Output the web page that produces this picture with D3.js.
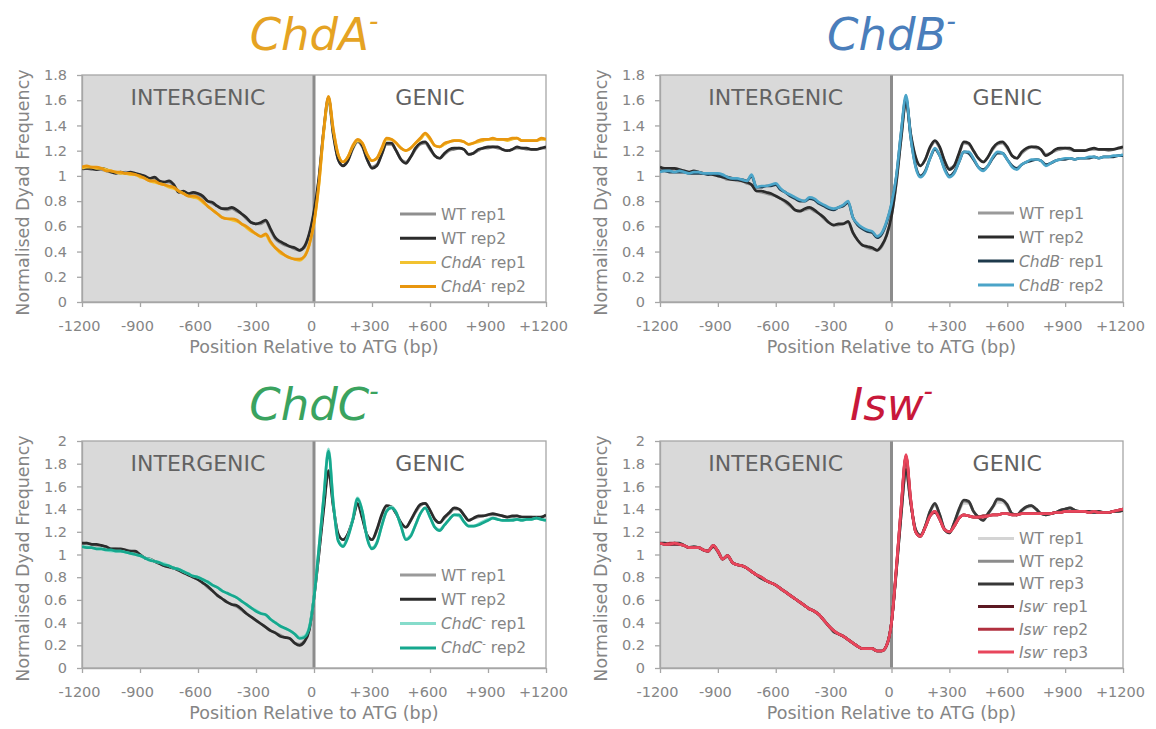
<!DOCTYPE html>
<html>
<head>
<meta charset="utf-8">
<script src="https://cdn.jsdelivr.net/npm/d3@7"></script>
<style>
  body { margin: 0; background: #fff; }
  svg { display: block; font-family: "DejaVu Sans", sans-serif; }
</style>
</head>
<body>
<svg id="chart" width="1156" height="729"></svg>
<script>
// positions every 25 bp from -1200 to +1200
var positions = d3.range(-1200, 1201, 25);
var xTicks = [-1200, -900, -600, -300, 0, 300, 600, 900, 1200];
var yTicksTop = [0, 0.2, 0.4, 0.6, 0.8, 1, 1.2, 1.4, 1.6, 1.8];
var yTicksBottom = [0, 0.2, 0.4, 0.6, 0.8, 1, 1.2, 1.4, 1.6, 1.8, 2];
var regionLabels = ["INTERGENIC", "GENIC"];
var xTitle = "Position Relative to ATG (bp)";
var yTitle = "Normalised Dyad Frequency";

// ---- ChdA panel ----
var chdaWt1 = [
  1.05, 1.06, 1.05, 1.05, 1.05, 1.04, 1.03, 1.03,
  1.02, 1.03, 1.02, 1.01, 1.01, 0.99, 0.98, 0.98,
  0.96, 0.95, 0.95, 0.92, 0.88, 0.87, 0.86, 0.86,
  0.85, 0.83, 0.80, 0.78, 0.76, 0.74, 0.73, 0.74,
  0.72, 0.70, 0.66, 0.63, 0.62, 0.62, 0.64, 0.57,
  0.50, 0.47, 0.45, 0.44, 0.42, 0.41, 0.43, 0.53,
  0.71, 0.97, 1.35, 1.60, 1.32, 1.13, 1.08, 1.12,
  1.21, 1.27, 1.23, 1.13, 1.07, 1.09, 1.17, 1.25,
  1.25, 1.20, 1.13, 1.11, 1.15, 1.21, 1.25, 1.26,
  1.21, 1.16, 1.14, 1.17, 1.20, 1.21, 1.22, 1.21,
  1.17, 1.18, 1.20, 1.22, 1.22, 1.23, 1.22, 1.21,
  1.20, 1.21, 1.22, 1.22, 1.21, 1.21, 1.21, 1.22,
  1.22];
var chdaWt2 = [
  1.06, 1.06, 1.06, 1.05, 1.06, 1.05, 1.03, 1.02,
  1.03, 1.02, 1.03, 1.02, 1.01, 1.00, 0.98, 0.99,
  0.96, 0.95, 0.96, 0.93, 0.87, 0.88, 0.86, 0.87,
  0.86, 0.84, 0.80, 0.79, 0.76, 0.74, 0.74, 0.75,
  0.73, 0.70, 0.67, 0.63, 0.62, 0.63, 0.65, 0.58,
  0.51, 0.48, 0.46, 0.44, 0.43, 0.41, 0.44, 0.54,
  0.72, 0.98, 1.36, 1.62, 1.33, 1.13, 1.08, 1.12,
  1.22, 1.28, 1.24, 1.13, 1.06, 1.08, 1.17, 1.26,
  1.26, 1.20, 1.13, 1.10, 1.15, 1.22, 1.26, 1.27,
  1.22, 1.16, 1.14, 1.18, 1.21, 1.22, 1.22, 1.21,
  1.17, 1.18, 1.21, 1.22, 1.23, 1.23, 1.23, 1.21,
  1.20, 1.21, 1.23, 1.22, 1.22, 1.21, 1.21, 1.22,
  1.23];
var chdaMut1 = [
  1.06, 1.07, 1.07, 1.06, 1.06, 1.05, 1.04, 1.03,
  1.02, 1.02, 1.01, 1.01, 0.99, 0.98, 0.96, 0.95,
  0.94, 0.93, 0.91, 0.90, 0.88, 0.86, 0.84, 0.83,
  0.82, 0.79, 0.76, 0.73, 0.70, 0.67, 0.66, 0.65,
  0.64, 0.62, 0.59, 0.56, 0.54, 0.52, 0.53, 0.47,
  0.43, 0.39, 0.37, 0.35, 0.34, 0.33, 0.36, 0.45,
  0.62, 0.92, 1.34, 1.61, 1.36, 1.17, 1.11, 1.15,
  1.23, 1.28, 1.26, 1.17, 1.12, 1.14, 1.21, 1.29,
  1.29, 1.26, 1.22, 1.20, 1.22, 1.26, 1.29, 1.33,
  1.29, 1.24, 1.23, 1.25, 1.27, 1.28, 1.28, 1.27,
  1.25, 1.26, 1.27, 1.28, 1.29, 1.29, 1.29, 1.29,
  1.28, 1.29, 1.30, 1.28, 1.28, 1.28, 1.28, 1.29,
  1.29];
var chdaMut2 = [
  1.07, 1.08, 1.07, 1.07, 1.06, 1.04, 1.04, 1.03,
  1.03, 1.02, 1.02, 1.01, 1.00, 0.98, 0.96, 0.96,
  0.94, 0.93, 0.92, 0.91, 0.88, 0.86, 0.84, 0.84,
  0.83, 0.80, 0.76, 0.73, 0.70, 0.67, 0.66, 0.66,
  0.65, 0.62, 0.60, 0.57, 0.54, 0.52, 0.54, 0.48,
  0.43, 0.40, 0.37, 0.35, 0.34, 0.34, 0.36, 0.45,
  0.63, 0.93, 1.36, 1.63, 1.37, 1.17, 1.11, 1.15,
  1.24, 1.29, 1.26, 1.17, 1.12, 1.14, 1.22, 1.30,
  1.29, 1.26, 1.22, 1.20, 1.22, 1.26, 1.30, 1.34,
  1.30, 1.24, 1.23, 1.26, 1.27, 1.28, 1.28, 1.27,
  1.25, 1.26, 1.28, 1.29, 1.29, 1.30, 1.29, 1.29,
  1.29, 1.30, 1.30, 1.28, 1.28, 1.28, 1.28, 1.30,
  1.29];

// ---- ChdB panel ----
var chdbWt1 = [
  1.06, 1.06, 1.05, 1.06, 1.05, 1.04, 1.03, 1.03,
  1.03, 1.02, 1.01, 1.01, 1.00, 0.99, 0.97, 0.97,
  0.96, 0.96, 0.94, 0.93, 0.88, 0.87, 0.86, 0.85,
  0.84, 0.82, 0.79, 0.76, 0.73, 0.72, 0.73, 0.74,
  0.72, 0.70, 0.66, 0.63, 0.61, 0.61, 0.62, 0.63,
  0.55, 0.49, 0.45, 0.43, 0.42, 0.41, 0.44, 0.53,
  0.68, 0.94, 1.29, 1.58, 1.32, 1.14, 1.08, 1.13,
  1.22, 1.27, 1.22, 1.12, 1.06, 1.08, 1.17, 1.26,
  1.25, 1.20, 1.14, 1.11, 1.15, 1.21, 1.25, 1.26,
  1.22, 1.16, 1.14, 1.18, 1.21, 1.23, 1.22, 1.21,
  1.17, 1.18, 1.20, 1.21, 1.22, 1.21, 1.20, 1.20,
  1.20, 1.21, 1.21, 1.21, 1.21, 1.20, 1.21, 1.22,
  1.22];
var chdbWt2 = [
  1.07, 1.06, 1.06, 1.06, 1.05, 1.04, 1.03, 1.04,
  1.03, 1.02, 1.02, 1.01, 1.00, 0.99, 0.98, 0.97,
  0.97, 0.96, 0.95, 0.93, 0.88, 0.88, 0.87, 0.86,
  0.84, 0.82, 0.80, 0.77, 0.73, 0.72, 0.74, 0.75,
  0.73, 0.70, 0.67, 0.63, 0.61, 0.62, 0.62, 0.64,
  0.55, 0.49, 0.45, 0.44, 0.43, 0.41, 0.45, 0.53,
  0.68, 0.95, 1.30, 1.60, 1.33, 1.15, 1.08, 1.13,
  1.23, 1.28, 1.23, 1.12, 1.05, 1.08, 1.18, 1.27,
  1.26, 1.20, 1.14, 1.11, 1.15, 1.22, 1.26, 1.27,
  1.23, 1.16, 1.14, 1.19, 1.22, 1.23, 1.23, 1.21,
  1.16, 1.18, 1.21, 1.22, 1.22, 1.22, 1.20, 1.20,
  1.20, 1.21, 1.22, 1.21, 1.21, 1.21, 1.21, 1.22,
  1.23];
var chdbMut1 = [
  1.04, 1.04, 1.03, 1.03, 1.03, 1.03, 1.02, 1.02,
  1.02, 1.02, 1.01, 1.02, 1.01, 1.00, 0.99, 0.98,
  0.97, 0.97, 0.96, 1.00, 0.91, 0.91, 0.92, 0.92,
  0.93, 0.89, 0.87, 0.84, 0.82, 0.80, 0.80, 0.82,
  0.81, 0.78, 0.76, 0.74, 0.73, 0.75, 0.76, 0.79,
  0.67, 0.61, 0.58, 0.56, 0.55, 0.51, 0.54, 0.63,
  0.77, 0.99, 1.34, 1.62, 1.30, 1.08, 1.00, 1.04,
  1.14, 1.21, 1.16, 1.06, 1.00, 1.03, 1.11, 1.19,
  1.18, 1.13, 1.07, 1.05, 1.08, 1.14, 1.18, 1.18,
  1.13, 1.08, 1.06, 1.09, 1.11, 1.12, 1.13, 1.12,
  1.09, 1.10, 1.12, 1.13, 1.13, 1.14, 1.13, 1.14,
  1.14, 1.14, 1.15, 1.14, 1.15, 1.15, 1.15, 1.16,
  1.16];
var chdbMut2 = [
  1.03, 1.04, 1.04, 1.03, 1.04, 1.03, 1.02, 1.03,
  1.03, 1.02, 1.02, 1.02, 1.02, 1.01, 0.99, 0.98,
  0.98, 0.97, 0.96, 1.01, 0.91, 0.92, 0.92, 0.93,
  0.94, 0.90, 0.87, 0.85, 0.83, 0.81, 0.80, 0.83,
  0.82, 0.79, 0.77, 0.75, 0.74, 0.75, 0.77, 0.80,
  0.67, 0.62, 0.59, 0.57, 0.56, 0.52, 0.55, 0.64,
  0.78, 1.00, 1.35, 1.64, 1.30, 1.07, 0.99, 1.03,
  1.14, 1.22, 1.16, 1.05, 0.99, 1.02, 1.11, 1.19,
  1.19, 1.14, 1.07, 1.04, 1.08, 1.15, 1.19, 1.18,
  1.13, 1.07, 1.05, 1.09, 1.11, 1.13, 1.13, 1.12,
  1.08, 1.10, 1.12, 1.13, 1.14, 1.14, 1.13, 1.14,
  1.14, 1.15, 1.15, 1.14, 1.15, 1.15, 1.16, 1.16,
  1.17];

// ---- ChdC panel ----
var chdcWt1 = [
  1.09, 1.10, 1.09, 1.08, 1.08, 1.06, 1.05, 1.05,
  1.04, 1.04, 1.03, 1.02, 1.00, 0.97, 0.96, 0.94,
  0.92, 0.90, 0.89, 0.88, 0.86, 0.84, 0.82, 0.80,
  0.78, 0.75, 0.71, 0.68, 0.64, 0.61, 0.58, 0.56,
  0.54, 0.51, 0.48, 0.45, 0.42, 0.39, 0.36, 0.33,
  0.31, 0.29, 0.27, 0.26, 0.22, 0.21, 0.24, 0.34,
  0.62, 1.00, 1.40, 1.72, 1.42, 1.18, 1.13, 1.18,
  1.30, 1.44, 1.32, 1.17, 1.13, 1.21, 1.34, 1.42,
  1.42, 1.36, 1.28, 1.24, 1.30, 1.37, 1.43, 1.45,
  1.39, 1.31, 1.28, 1.32, 1.36, 1.40, 1.40, 1.35,
  1.30, 1.32, 1.33, 1.34, 1.35, 1.35, 1.35, 1.34,
  1.33, 1.33, 1.34, 1.33, 1.33, 1.33, 1.32, 1.33,
  1.34];
var chdcWt2 = [
  1.10, 1.10, 1.09, 1.09, 1.08, 1.07, 1.05, 1.05,
  1.05, 1.04, 1.03, 1.03, 1.00, 0.97, 0.96, 0.94,
  0.92, 0.90, 0.89, 0.88, 0.86, 0.84, 0.82, 0.80,
  0.78, 0.75, 0.72, 0.68, 0.64, 0.61, 0.58, 0.56,
  0.55, 0.52, 0.48, 0.45, 0.42, 0.39, 0.36, 0.33,
  0.31, 0.28, 0.27, 0.26, 0.22, 0.20, 0.23, 0.33,
  0.62, 1.00, 1.40, 1.74, 1.42, 1.18, 1.13, 1.18,
  1.30, 1.45, 1.32, 1.17, 1.13, 1.22, 1.35, 1.43,
  1.42, 1.36, 1.28, 1.24, 1.30, 1.38, 1.44, 1.45,
  1.39, 1.31, 1.28, 1.33, 1.37, 1.41, 1.40, 1.35,
  1.30, 1.32, 1.34, 1.34, 1.35, 1.36, 1.35, 1.34,
  1.33, 1.34, 1.34, 1.33, 1.33, 1.33, 1.33, 1.33,
  1.35];
var chdcMut1 = [
  1.07, 1.07, 1.06, 1.05, 1.05, 1.04, 1.03, 1.03,
  1.03, 1.02, 1.01, 1.00, 0.99, 0.97, 0.96, 0.94,
  0.93, 0.92, 0.90, 0.88, 0.87, 0.85, 0.83, 0.81,
  0.80, 0.78, 0.75, 0.73, 0.71, 0.68, 0.66, 0.64,
  0.62, 0.59, 0.56, 0.53, 0.51, 0.48, 0.47, 0.43,
  0.40, 0.37, 0.35, 0.33, 0.30, 0.27, 0.28, 0.36,
  0.63, 1.05, 1.50, 1.93, 1.46, 1.13, 1.08, 1.16,
  1.31, 1.50, 1.38, 1.15, 1.06, 1.11, 1.25, 1.38,
  1.42, 1.37, 1.25, 1.14, 1.17, 1.26, 1.36, 1.41,
  1.33, 1.24, 1.22, 1.26, 1.31, 1.35, 1.34, 1.29,
  1.25, 1.25, 1.27, 1.29, 1.31, 1.32, 1.31, 1.30,
  1.30, 1.31, 1.31, 1.31, 1.31, 1.31, 1.32, 1.31,
  1.30];
var chdcMut2 = [
  1.07, 1.06, 1.06, 1.05, 1.05, 1.04, 1.04, 1.03,
  1.03, 1.02, 1.01, 1.00, 0.99, 0.97, 0.95, 0.94,
  0.93, 0.91, 0.90, 0.88, 0.87, 0.85, 0.83, 0.81,
  0.80, 0.78, 0.76, 0.73, 0.71, 0.68, 0.66, 0.64,
  0.62, 0.59, 0.56, 0.53, 0.50, 0.48, 0.47, 0.43,
  0.40, 0.37, 0.35, 0.33, 0.30, 0.26, 0.27, 0.35,
  0.62, 1.05, 1.50, 1.91, 1.45, 1.12, 1.07, 1.15,
  1.30, 1.49, 1.38, 1.14, 1.05, 1.10, 1.25, 1.38,
  1.41, 1.37, 1.25, 1.13, 1.16, 1.26, 1.36, 1.41,
  1.33, 1.24, 1.21, 1.26, 1.31, 1.35, 1.35, 1.29,
  1.25, 1.25, 1.26, 1.28, 1.30, 1.32, 1.31, 1.30,
  1.30, 1.30, 1.31, 1.30, 1.31, 1.31, 1.32, 1.31,
  1.30];

// ---- Isw panel ----
var iswWt1 = [
  1.10, 1.10, 1.10, 1.09, 1.09, 1.08, 1.07, 1.06,
  1.06, 1.05, 1.03, 1.07, 1.03, 0.97, 0.98, 0.93,
  0.91, 0.89, 0.88, 0.85, 0.82, 0.79, 0.77, 0.75,
  0.73, 0.70, 0.67, 0.64, 0.61, 0.58, 0.55, 0.52,
  0.50, 0.46, 0.42, 0.37, 0.32, 0.30, 0.28, 0.25,
  0.22, 0.19, 0.17, 0.17, 0.16, 0.15, 0.15, 0.20,
  0.41, 0.86, 1.36, 1.72, 1.44, 1.21, 1.17, 1.24,
  1.37, 1.43, 1.35, 1.23, 1.20, 1.27, 1.38, 1.45,
  1.45, 1.38, 1.33, 1.31, 1.35, 1.41, 1.46, 1.46,
  1.42, 1.36, 1.35, 1.38, 1.41, 1.42, 1.40, 1.36,
  1.35, 1.36, 1.37, 1.39, 1.40, 1.40, 1.39, 1.38,
  1.38, 1.38, 1.37, 1.38, 1.37, 1.37, 1.38, 1.38,
  1.39];
var iswWt2 = [
  1.10, 1.09, 1.09, 1.10, 1.09, 1.08, 1.06, 1.06,
  1.06, 1.04, 1.03, 1.08, 1.02, 0.96, 0.98, 0.93,
  0.91, 0.90, 0.88, 0.85, 0.82, 0.79, 0.77, 0.75,
  0.73, 0.70, 0.67, 0.64, 0.61, 0.58, 0.55, 0.52,
  0.50, 0.47, 0.42, 0.37, 0.32, 0.30, 0.28, 0.25,
  0.22, 0.19, 0.17, 0.17, 0.17, 0.15, 0.15, 0.20,
  0.40, 0.85, 1.35, 1.74, 1.45, 1.22, 1.16, 1.25,
  1.38, 1.44, 1.35, 1.22, 1.19, 1.28, 1.39, 1.47,
  1.46, 1.38, 1.33, 1.30, 1.36, 1.42, 1.48, 1.48,
  1.43, 1.36, 1.35, 1.39, 1.42, 1.43, 1.40, 1.36,
  1.35, 1.36, 1.37, 1.39, 1.40, 1.41, 1.39, 1.38,
  1.38, 1.38, 1.37, 1.38, 1.37, 1.37, 1.38, 1.38,
  1.39];
var iswWt3 = [
  1.10, 1.10, 1.09, 1.10, 1.10, 1.08, 1.06, 1.07,
  1.06, 1.04, 1.03, 1.08, 1.03, 0.96, 0.99, 0.93,
  0.91, 0.90, 0.88, 0.85, 0.82, 0.79, 0.77, 0.75,
  0.73, 0.70, 0.67, 0.64, 0.61, 0.58, 0.55, 0.52,
  0.50, 0.47, 0.42, 0.37, 0.32, 0.30, 0.28, 0.25,
  0.22, 0.19, 0.17, 0.17, 0.17, 0.15, 0.15, 0.20,
  0.40, 0.85, 1.35, 1.75, 1.45, 1.22, 1.17, 1.25,
  1.38, 1.45, 1.35, 1.22, 1.19, 1.28, 1.40, 1.48,
  1.47, 1.38, 1.33, 1.30, 1.36, 1.42, 1.49, 1.48,
  1.44, 1.36, 1.35, 1.39, 1.42, 1.43, 1.40, 1.36,
  1.35, 1.36, 1.37, 1.39, 1.40, 1.41, 1.39, 1.38,
  1.38, 1.38, 1.37, 1.38, 1.37, 1.37, 1.38, 1.38,
  1.39];
var iswMut1 = [
  1.10, 1.09, 1.09, 1.09, 1.09, 1.08, 1.06, 1.06,
  1.06, 1.04, 1.03, 1.07, 1.03, 0.96, 0.99, 0.93,
  0.91, 0.90, 0.88, 0.85, 0.82, 0.80, 0.77, 0.75,
  0.73, 0.70, 0.67, 0.64, 0.61, 0.58, 0.55, 0.52,
  0.50, 0.47, 0.42, 0.37, 0.33, 0.30, 0.28, 0.25,
  0.22, 0.19, 0.17, 0.17, 0.17, 0.15, 0.15, 0.20,
  0.40, 0.87, 1.41, 1.86, 1.47, 1.20, 1.16, 1.24,
  1.34, 1.37, 1.31, 1.22, 1.20, 1.25, 1.32, 1.35,
  1.34, 1.33, 1.33, 1.34, 1.34, 1.35, 1.35, 1.36,
  1.36, 1.35, 1.35, 1.36, 1.36, 1.36, 1.36, 1.36,
  1.36, 1.36, 1.37, 1.37, 1.38, 1.38, 1.38, 1.38,
  1.38, 1.37, 1.38, 1.37, 1.37, 1.37, 1.38, 1.39,
  1.40];
var iswMut2 = [
  1.10, 1.09, 1.10, 1.10, 1.09, 1.08, 1.06, 1.06,
  1.06, 1.04, 1.03, 1.08, 1.03, 0.96, 0.99, 0.93,
  0.91, 0.90, 0.88, 0.85, 0.82, 0.80, 0.77, 0.75,
  0.73, 0.70, 0.67, 0.64, 0.61, 0.58, 0.55, 0.52,
  0.50, 0.47, 0.42, 0.37, 0.33, 0.30, 0.28, 0.25,
  0.22, 0.19, 0.17, 0.17, 0.17, 0.15, 0.15, 0.20,
  0.40, 0.88, 1.42, 1.87, 1.48, 1.20, 1.16, 1.24,
  1.34, 1.38, 1.31, 1.22, 1.20, 1.25, 1.32, 1.35,
  1.34, 1.33, 1.33, 1.34, 1.34, 1.35, 1.35, 1.36,
  1.36, 1.35, 1.35, 1.36, 1.36, 1.36, 1.36, 1.36,
  1.36, 1.36, 1.37, 1.37, 1.38, 1.38, 1.38, 1.38,
  1.38, 1.37, 1.38, 1.37, 1.37, 1.37, 1.38, 1.39,
  1.40];
var iswMut3 = [
  1.10, 1.09, 1.09, 1.10, 1.09, 1.08, 1.06, 1.06,
  1.06, 1.04, 1.03, 1.08, 1.03, 0.96, 0.99, 0.93,
  0.91, 0.90, 0.88, 0.85, 0.82, 0.80, 0.77, 0.75,
  0.73, 0.70, 0.67, 0.64, 0.61, 0.58, 0.55, 0.52,
  0.50, 0.47, 0.42, 0.37, 0.33, 0.30, 0.28, 0.25,
  0.22, 0.19, 0.17, 0.17, 0.17, 0.15, 0.15, 0.20,
  0.40, 0.88, 1.42, 1.88, 1.48, 1.20, 1.16, 1.24,
  1.34, 1.38, 1.31, 1.22, 1.20, 1.25, 1.32, 1.35,
  1.34, 1.33, 1.33, 1.33, 1.34, 1.35, 1.35, 1.36,
  1.36, 1.35, 1.35, 1.36, 1.36, 1.36, 1.36, 1.36,
  1.36, 1.36, 1.37, 1.37, 1.38, 1.38, 1.38, 1.38,
  1.38, 1.37, 1.38, 1.37, 1.37, 1.37, 1.38, 1.39,
  1.40];

var panels = [
  { name: "ChdA", color: "#e5a323", left: 82, top: 75, width: 464, height: 227,
    yMax: 1.8, yTicks: yTicksTop, titleY: 50, legendY: 139, legendStep: 24.2,
    series: [
      { label: "WT", rep: "rep1", values: chdaWt1, color: "#8f8f8f" },
      { label: "WT", rep: "rep2", values: chdaWt2, color: "#2b2b2b" },
      { label: "ChdA", mut: true, rep: "rep1", values: chdaMut1, color: "#f2c230" },
      { label: "ChdA", mut: true, rep: "rep2", values: chdaMut2, color: "#e8960e" }
    ] },
  { name: "ChdB", color: "#4a7ebb", left: 660, top: 75, width: 463, height: 227,
    yMax: 1.8, yTicks: yTicksTop, titleY: 50, legendY: 138, legendStep: 24,
    series: [
      { label: "WT", rep: "rep1", values: chdbWt1, color: "#9a9a9a" },
      { label: "WT", rep: "rep2", values: chdbWt2, color: "#2b2b2b" },
      { label: "ChdB", mut: true, rep: "rep1", values: chdbMut1, color: "#1e3a4c" },
      { label: "ChdB", mut: true, rep: "rep2", values: chdbMut2, color: "#4ba4c8" }
    ] },
  { name: "ChdC", color: "#3aa35f", left: 82, top: 441, width: 464, height: 227,
    yMax: 2, yTicks: yTicksBottom, titleY: 420, legendY: 134, legendStep: 24.3,
    series: [
      { label: "WT", rep: "rep1", values: chdcWt1, color: "#9a9a9a" },
      { label: "WT", rep: "rep2", values: chdcWt2, color: "#2b2b2b" },
      { label: "ChdC", mut: true, rep: "rep1", values: chdcMut1, color: "#86dccb" },
      { label: "ChdC", mut: true, rep: "rep2", values: chdcMut2, color: "#16a88e" }
    ] },
  { name: "Isw", color: "#c8183a", left: 660, top: 441, width: 463, height: 227,
    yMax: 2, yTicks: yTicksBottom, titleY: 420, legendY: 97.5, legendStep: 22.7,
    series: [
      { label: "WT", rep: "rep1", values: iswWt1, color: "#d4d4d4" },
      { label: "WT", rep: "rep2", values: iswWt2, color: "#8c8c8c" },
      { label: "WT", rep: "rep3", values: iswWt3, color: "#383838" },
      { label: "Isw", mut: true, rep: "rep1", values: iswMut1, color: "#5c1822" },
      { label: "Isw", mut: true, rep: "rep2", values: iswMut2, color: "#b1303f" },
      { label: "Isw", mut: true, rep: "rep3", values: iswMut3, color: "#e8465c" }
    ] }
];

var svg = d3.select("#chart");
var axisGrey = "#a6a6a6",
    textGrey = "#858585";

function fmtX(d) {
  return d > 0 ? "+" + d : String(d);
}

function fmtY(d) {
  return String(+d.toFixed(1));
}

panels.forEach(function (p, pi) {
  var x = d3.scaleLinear().domain([-1200, 1200]).range([p.left, p.left + p.width]),
      y = d3.scaleLinear().domain([0, p.yMax]).range([p.top + p.height, p.top]),
      g = svg.append("g"),
      bottom = p.top + p.height;

  // shaded intergenic half
  g.append("rect")
    .attr("x", x(-1200))
    .attr("y", p.top)
    .attr("width", x(0) - x(-1200))
    .attr("height", p.height)
    .attr("fill", "#d9d9d9");

  g.append("text")
    .attr("x", (x(-1200) + x(0)) / 2)
    .attr("y", p.top + 30)
    .attr("text-anchor", "middle")
    .attr("font-size", 22)
    .attr("fill", "#626262")
    .text(regionLabels[0]);

  g.append("text")
    .attr("x", (x(0) + x(1200)) / 2)
    .attr("y", p.top + 30)
    .attr("text-anchor", "middle")
    .attr("font-size", 22)
    .attr("fill", "#626262")
    .text(regionLabels[1]);

  // ATG line
  g.append("line")
    .attr("x1", x(0)).attr("x2", x(0))
    .attr("y1", p.top).attr("y2", bottom)
    .attr("stroke", "#8c8c8c")
    .attr("stroke-width", 3);

  g.append("rect")
    .attr("x", p.left)
    .attr("y", p.top)
    .attr("width", p.width)
    .attr("height", p.height)
    .attr("fill", "none")
    .attr("stroke", axisGrey)
    .attr("stroke-width", 1.3);

  // axes
  var yAxis = g.append("g")
    .attr("transform", "translate(" + p.left + ",0)")
    .call(d3.axisLeft(y).tickValues(p.yTicks).tickSize(5).tickSizeOuter(0).tickPadding(10).tickFormat(fmtY));
  var xAxis = g.append("g")
    .attr("transform", "translate(0," + bottom + ")")
    .call(d3.axisBottom(x).tickValues(xTicks).tickSize(5).tickSizeOuter(0).tickPadding(14).tickFormat(fmtX));

  [yAxis, xAxis].forEach(function (a) {
    a.attr("font-family", null).attr("font-size", 14.5);
    a.select(".domain").attr("stroke", axisGrey).attr("stroke-width", 1.3);
    a.selectAll(".tick line").attr("stroke", axisGrey).attr("stroke-width", 1.3);
    a.selectAll(".tick text").attr("fill", textGrey);
  });
  xAxis.selectAll(".tick text").attr("dx", -3);

  g.append("text")
    .attr("x", p.left + p.width / 2)
    .attr("y", bottom + 51)
    .attr("text-anchor", "middle")
    .attr("font-size", 17.5)
    .attr("fill", textGrey)
    .text(xTitle);

  g.append("text")
    .attr("transform", "translate(" + (p.left - 53) + "," + (p.top + p.height / 2 + 4) + ") rotate(-90)")
    .attr("text-anchor", "middle")
    .attr("font-size", 17.5)
    .attr("fill", textGrey)
    .text(yTitle);

  // panel title
  var title = g.append("text")
    .attr("x", p.left + p.width / 2)
    .attr("y", p.titleY)
    .attr("text-anchor", "middle")
    .attr("font-size", 45)
    .attr("font-style", "italic")
    .attr("fill", p.color);
  title.append("tspan").text(p.name);
  title.append("tspan").attr("font-size", 26).attr("dy", -20).text("-");

  // data lines
  svg.append("clipPath").attr("id", "clip" + pi)
    .append("rect")
    .attr("x", p.left).attr("y", p.top)
    .attr("width", p.width).attr("height", p.height);

  var line = d3.line()
    .x(function (d) { return x(d[0]); })
    .y(function (d) { return y(d[1]); })
    .curve(d3.curveMonotoneX);

  var lines = g.append("g").attr("clip-path", "url(#clip" + pi + ")");
  p.series.forEach(function (s) {
    lines.append("path")
      .datum(d3.zip(positions, s.values))
      .attr("d", line)
      .attr("fill", "none")
      .attr("stroke", s.color)
      .attr("stroke-width", 2.7)
      .attr("stroke-linejoin", "round");
  });

  // legend
  var lx = p.left + 318;
  p.series.forEach(function (s, i) {
    var ly = p.top + p.legendY + i * p.legendStep;
    g.append("line")
      .attr("x1", lx).attr("x2", lx + 36)
      .attr("y1", ly).attr("y2", ly)
      .attr("stroke", s.color)
      .attr("stroke-width", 3);
    var t = g.append("text")
      .attr("x", lx + 41)
      .attr("y", ly)
      .attr("dy", "0.36em")
      .attr("font-size", 15.5)
      .attr("fill", textGrey);
    if (s.mut) {
      t.append("tspan").attr("font-style", "italic").text(s.label);
      t.append("tspan").attr("font-size", 10).attr("dy", -6).text("-");
      t.append("tspan").attr("dy", 6).text("\u00a0" + s.rep);
    } else {
      t.text(s.label + " " + s.rep);
    }
  });
});
</script>
</body>
</html>
